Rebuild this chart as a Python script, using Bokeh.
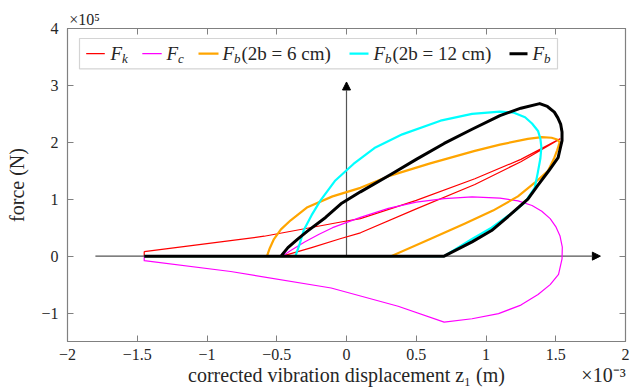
from bokeh.plotting import figure
from bokeh.models import (Range1d, FixedTicker, LinearAxis, Arrow, NormalHead,
                          BoxAnnotation, Label, CustomJSTickFormatter)
from bokeh.embed import file_html
from bokeh.resources import INLINE

# ---------------- data (x in 1e-3 m, force in 1e5 N) ----------------
x_ticks = [-2, -1.5, -1, -0.5, 0, 0.5, 1, 1.5, 2]
y_ticks = [-1, 0, 1, 2, 3, 4]
x_label = "corrected vibration displacement z\u2081 (m)"
y_label = "force (N)"
x_exponent = "\u00d710\u207b\u00b3"
y_exponent = "\u00d710\u2075"

# F_k (red)
fk_x = [-1.45, -1.0, -0.59, -0.04, 0.10, 0.50, 0.92, 1.25, 1.53,
        1.25, 0.92, 0.50, 0.10, -0.04, -0.25, -0.46, -1.45, -1.45]
fk_y = [0.08, 0.22, 0.35, 0.60, 0.66, 0.98, 1.36, 1.70, 2.06,
        1.66, 1.26, 0.83, 0.41, 0.31, 0.15, 0.0, 0.0, 0.08]

# F_c (magenta)
fc_x = [-1.45, -0.46, -0.40, -0.30, -0.20, -0.10, 0.10, 0.30, 0.50, 0.70, 0.90,
        1.10, 1.23, 1.33, 1.40, 1.46, 1.50, 1.53, 1.547, 1.545, 1.52, 1.46, 1.373,
        1.25, 1.09, 0.90, 0.70, 0.37, -0.11, -0.83, -1.45, -1.45]
fc_y = [0.0, 0.0, 0.10, 0.25, 0.38, 0.50, 0.68, 0.84, 0.95, 1.01, 1.04,
        1.02, 0.97, 0.89, 0.79, 0.66, 0.52, 0.36, 0.16, -0.05, -0.32, -0.50, -0.675,
        -0.86, -1.01, -1.10, -1.16, -0.88, -0.56, -0.27, -0.08, 0.0]

# F_b(2b = 6 cm) (orange)
fb6_x = [-1.45, -0.57, -0.55, -0.52, -0.47, -0.40, -0.28, -0.10, 0.10, 0.32, 0.60,
         0.92, 1.10, 1.30, 1.40, 1.47, 1.51, 1.528, 1.51, 1.49, 1.445, 1.35, 1.229,
         1.05, 0.846, 0.60, 0.32, -1.45]
fb6_y = [0.0, 0.0, 0.14, 0.30, 0.47, 0.63, 0.86, 1.05, 1.20, 1.42, 1.63,
         1.85, 1.96, 2.06, 2.09, 2.08, 2.05, 2.00, 1.86, 1.73, 1.50, 1.29, 1.05,
         0.80, 0.57, 0.30, 0.0, 0.0]

# F_b(2b = 12 cm) (cyan)
fb12_x = [-1.45, -0.366, -0.335, -0.306, -0.25, -0.186, -0.08, 0.05, 0.20, 0.40,
          0.674, 0.90, 1.10, 1.20, 1.28, 1.33, 1.373, 1.39, 1.397, 1.39, 1.37,
          1.349, 1.28, 1.205, 1.04, 0.90, 0.70, -1.45]
fb12_y = [0.0, 0.0, 0.22, 0.46, 0.72, 0.98, 1.33, 1.62, 1.90, 2.14,
          2.38, 2.50, 2.54, 2.52, 2.44, 2.33, 2.20, 2.06, 1.91, 1.72, 1.45,
          1.20, 0.95, 0.79, 0.50, 0.30, 0.0, 0.0]

# F_b (black)
fb_x = [-1.45, -0.47, -0.42, -0.35, -0.28, -0.15, -0.04, 0.10, 0.32, 0.50,
        0.70, 0.90, 1.10, 1.25, 1.385, 1.44, 1.49, 1.515, 1.535, 1.545, 1.545,
        1.53, 1.517, 1.45, 1.37, 1.30, 1.17, 1.04, 0.90, 0.70, -1.45]
fb_y = [0.0, 0.0, 0.15, 0.30, 0.44, 0.68, 0.92, 1.13, 1.44, 1.70,
        1.98, 2.23, 2.47, 2.60, 2.68, 2.63, 2.53, 2.43, 2.32, 2.18, 2.03,
        1.87, 1.73, 1.50, 1.24, 1.00, 0.72, 0.45, 0.25, 0.0, 0.0]

# ---------------- layout / style ----------------
X_RANGE = (-2, 2)
Y_RANGE = (-1.5, 4)
FRAME_W, FRAME_H = 558, 313
SERIF = "Liberation Serif"
GRAY = "#808080"
TXT = "#262626"


def fx(px):
    return X_RANGE[0] + px * (X_RANGE[1] - X_RANGE[0]) / FRAME_W


def fy(py):
    return Y_RANGE[1] - py * (Y_RANGE[1] - Y_RANGE[0]) / FRAME_H


p = figure(frame_width=FRAME_W, frame_height=FRAME_H,
           x_range=Range1d(*X_RANGE), y_range=Range1d(*Y_RANGE),
           output_backend="svg", toolbar_location=None,
           min_border_left=67, min_border_right=13,
           min_border_top=28, min_border_bottom=51,
           outline_line_color=GRAY, background_fill_color="white",
           border_fill_color="white")
p.grid.visible = False

fmt = CustomJSTickFormatter(code="return tick < 0 ? '\u2212' + String(-tick) : String(tick);")


def style_axis(ax, ticks, show_labels=True):
    ax.ticker = FixedTicker(ticks=ticks)
    ax.minor_tick_line_color = None
    ax.major_tick_in = 6
    ax.major_tick_out = 0
    ax.major_tick_line_color = GRAY
    ax.axis_line_color = GRAY
    ax.axis_line_width = 1.2
    ax.major_tick_line_width = 1
    if show_labels:
        ax.formatter = fmt
        ax.major_label_text_font = SERIF
        ax.major_label_text_font_size = "16px"
        ax.major_label_text_color = TXT
        ax.axis_label_text_font = SERIF
        ax.axis_label_text_font_size = "20px"
        ax.axis_label_text_font_style = "normal"
        ax.axis_label_text_color = TXT
    else:
        ax.major_label_text_font_size = "1px"
        ax.major_label_text_color = None
        ax.major_label_standoff = 0


style_axis(p.xaxis[0], x_ticks)
style_axis(p.yaxis[0], y_ticks)
p.xaxis[0].major_label_standoff = 7
p.yaxis[0].axis_label = y_label
p.yaxis[0].major_label_standoff = 9
p.yaxis[0].axis_label_standoff = 10

top_ax = LinearAxis()
style_axis(top_ax, x_ticks, show_labels=False)
p.add_layout(top_ax, "above")
right_ax = LinearAxis()
style_axis(right_ax, y_ticks, show_labels=False)
p.add_layout(right_ax, "right")


def text_row_axis(positions, texts, size):
    ax = LinearAxis(ticker=FixedTicker(ticks=positions),
                    major_label_overrides={pos: t for pos, t in zip(positions, texts)})
    ax.axis_line_color = None
    ax.major_tick_line_color = None
    ax.minor_tick_line_color = None
    ax.major_tick_in = 0
    ax.major_tick_out = 0
    ax.major_label_standoff = 1
    ax.major_label_text_font = SERIF
    ax.major_label_text_font_size = size
    ax.major_label_text_color = TXT
    return ax


# row under the tick labels: axis title and the x exponent
p.add_layout(text_row_axis([fx(FRAME_W / 2), fx(536)], [x_label, x_exponent], "20px"), "below")
# row over the frame: the y exponent
p.add_layout(text_row_axis([fx(17)], [y_exponent], "16px"), "above")

# inner coordinate arrows
p.add_layout(Arrow(end=NormalHead(size=8, fill_color="black", line_color="black"),
                   x_start=-1.8, y_start=0, x_end=1.82, y_end=0,
                   line_color="#555555", line_width=1.2, level="underlay"))
p.add_layout(Arrow(end=NormalHead(size=8, fill_color="black", line_color="black"),
                   x_start=0, y_start=0, x_end=0, y_end=3.06,
                   line_color="#555555", line_width=1.2, level="underlay"))

# curves
series = [
    (fk_x, fk_y, "#ff0000", 1.2),
    (fc_x, fc_y, "#ff00ff", 1.2),
    (fb6_x, fb6_y, "#ffa500", 2.2),
    (fb12_x, fb12_y, "#00ffff", 2.2),
    (fb_x, fb_y, "#000000", 3.0),
]
for xs, ys, col, w in series:
    p.line(xs, ys, line_color=col, line_width=w, line_join="round")

# custom legend
LEG_L, LEG_R, LEG_T, LEG_B = 12, 490, 10, 40.3
leg_mid = (LEG_T + LEG_B) / 2
p.add_layout(BoxAnnotation(left=fx(LEG_L), right=fx(LEG_R), top=fy(LEG_T), bottom=fy(LEG_B),
                           fill_color="white", fill_alpha=1.0, line_color="#6f6f6f",
                           line_width=1.2, level="underlay"))
leg_items = [
    (0, 18.7, 37.3, 43, "k", ""),
    (1, 74.8, 94.2, 99, "c", ""),
    (2, 131, 151, 155, "b", "(2b = 6 cm)"),
    (3, 282, 301, 306, "b", "(2b = 12 cm)"),
    (4, 442, 460, 465, "b", ""),
]
for idx, s0, s1, tx, sub, rest in leg_items:
    _, _, col, w = series[idx]
    p.segment(x0=[fx(s0)], y0=[fy(leg_mid)], x1=[fx(s1)], y1=[fy(leg_mid)],
              line_color=col, line_width=w)
    p.add_layout(Label(x=fx(tx), y=fy(leg_mid), text="F", text_font=SERIF,
                       text_font_style="italic", text_font_size="19px", text_color=TXT,
                       text_baseline="middle", text_align="left"))
    p.add_layout(Label(x=fx(tx + 11.5), y=fy(leg_mid + 5), text=sub, text_font=SERIF,
                       text_font_style="italic", text_font_size="13px", text_color=TXT,
                       text_baseline="middle", text_align="left"))
    if rest:
        p.add_layout(Label(x=fx(tx + 19), y=fy(leg_mid), text=rest, text_font=SERIF,
                           text_font_size="19px", text_color=TXT,
                           text_baseline="middle", text_align="left"))

open("out.html", "w").write(file_html(p, INLINE))
